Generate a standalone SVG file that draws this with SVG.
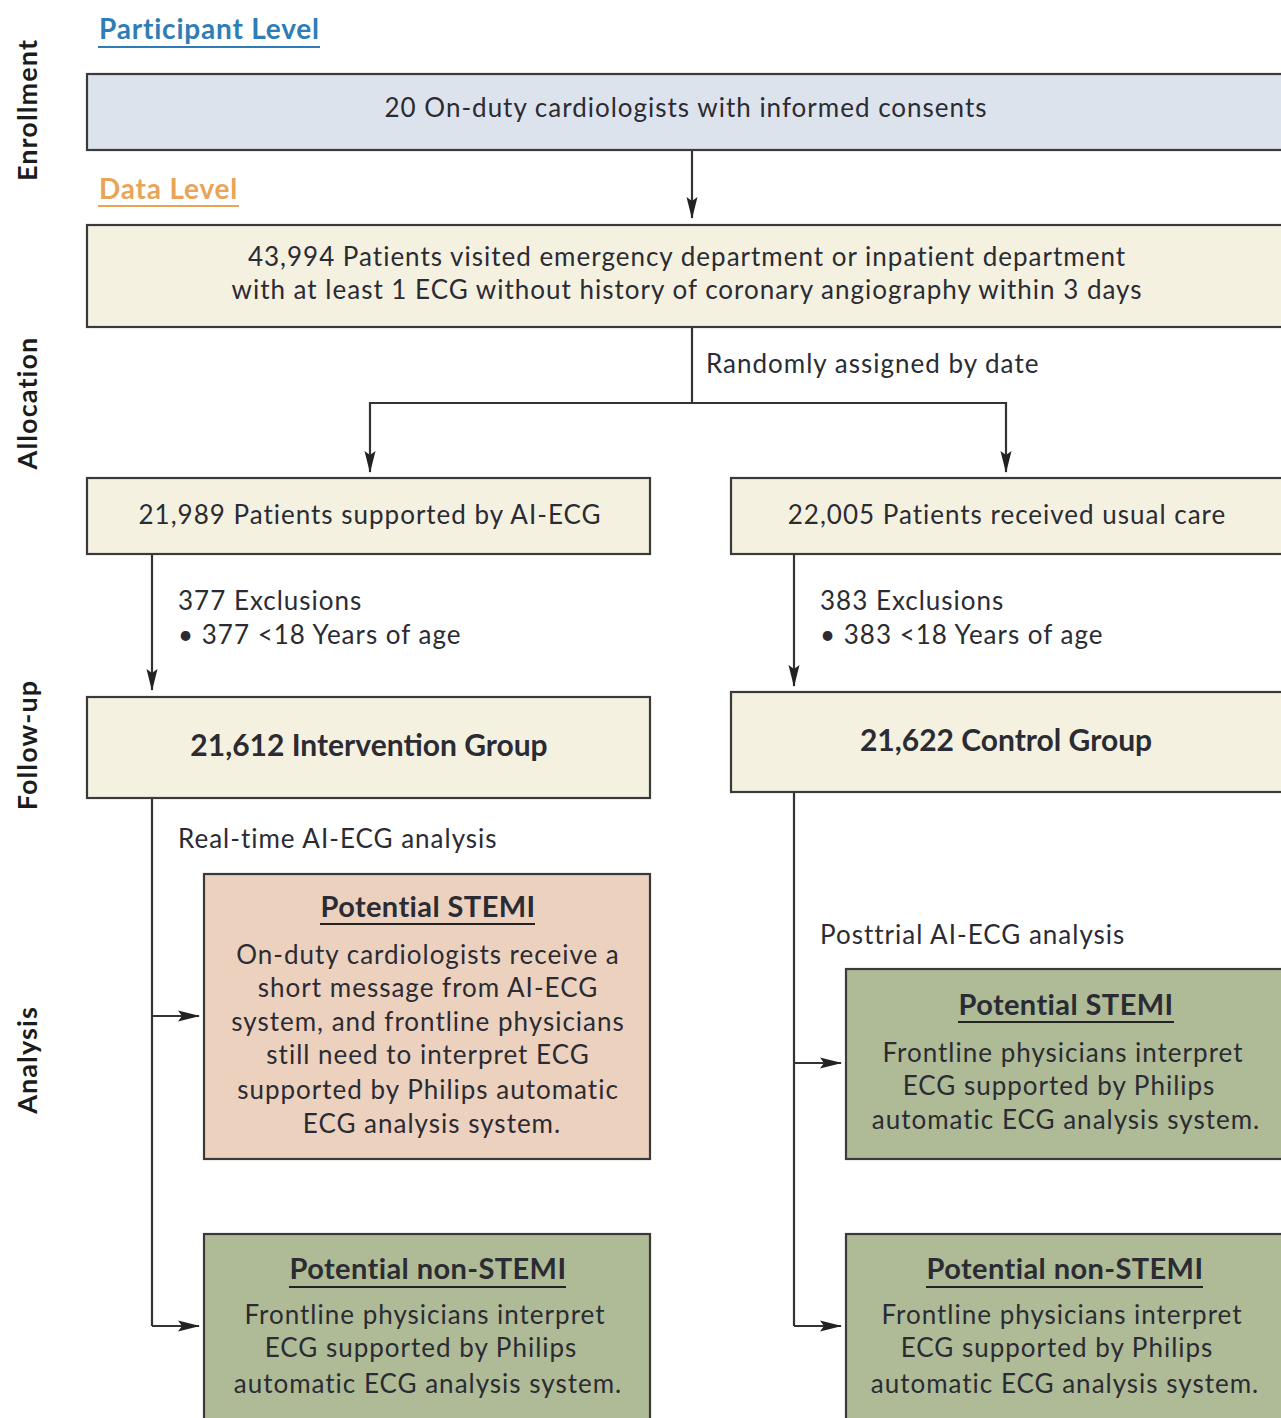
<svg xmlns="http://www.w3.org/2000/svg" width="1281" height="1418" viewBox="0 0 1281 1418">
  <style>
    text { font-family: Lato, "Open Sans", "Liberation Sans", sans-serif; fill: #2b2b33; }
    .body { font-size: 26px; letter-spacing: 1px; }
    .mid { text-anchor: middle; }
    .big { font-size: 30px; font-weight: bold; }
    .title { font-size: 29px; font-weight: bold; letter-spacing: 0.4px; }
    .side { font-size: 27px; font-weight: bold; fill: #1c1c1c; text-anchor: middle; letter-spacing: 1.1px; }
    .head { font-size: 28px; font-weight: bold; letter-spacing: 0.8px; }
    .box { stroke: #3a3a3a; stroke-width: 2.2; }
    .blue { fill: #dde3ec; }
    .cream { fill: #f5f1e0; }
    .peach { fill: #ecd1bf; }
    .sage { fill: #aebb96; }
    .conn { fill: none; stroke: #333; stroke-width: 2.2; }
    .ul { stroke: #222; stroke-width: 2; }
  </style>
  <defs>
    <marker id="arrow" markerUnits="userSpaceOnUse" markerWidth="22" markerHeight="14" viewBox="0 0 22 14" refX="21" refY="7" orient="auto">
      <path d="M0,1.5 L22,7 L0,12.5 L4,7 Z" fill="#222"/>
    </marker>
  </defs>

  <rect width="1281" height="1418" fill="#ffffff"/>

  <!-- stage labels down the left side -->
  <g id="stage-labels">
    <text class="side" transform="translate(37,110) rotate(-90)">Enrollment</text>
    <text class="side" transform="translate(37,403) rotate(-90)">Allocation</text>
    <text class="side" transform="translate(37,745) rotate(-90)">Follow-up</text>
    <text class="side" transform="translate(37,1060) rotate(-90)">Analysis</text>
  </g>

  <!-- level headings -->
  <g id="participant-level">
    <text class="head" x="99" y="39" style="fill:#2e7db7">Participant Level</text>
    <line x1="98" y1="47" x2="320" y2="47" stroke="#2e7db7" stroke-width="2"/>
  </g>
  <g id="data-level">
    <text class="head" x="99" y="199" style="fill:#e9a458">Data Level</text>
    <line x1="98" y1="206" x2="239" y2="206" stroke="#e9a458" stroke-width="2"/>
  </g>

  <!-- connectors -->
  <g id="connectors">
    <path class="conn" d="M692,150 V218" marker-end="url(#arrow)"/>
    <path class="conn" d="M692,327 V403"/>
    <path class="conn" d="M692,403 H370 V472" marker-end="url(#arrow)"/>
    <path class="conn" d="M692,403 H1006 V472" marker-end="url(#arrow)"/>
    <path class="conn" d="M152,554 V690" marker-end="url(#arrow)"/>
    <path class="conn" d="M794,554 V686" marker-end="url(#arrow)"/>
    <path class="conn" d="M152,798 V1326"/>
    <path class="conn" d="M152,1016 H199" marker-end="url(#arrow)"/>
    <path class="conn" d="M152,1326 H199" marker-end="url(#arrow)"/>
    <path class="conn" d="M794,792 V1326"/>
    <path class="conn" d="M794,1063 H841" marker-end="url(#arrow)"/>
    <path class="conn" d="M794,1326 H841" marker-end="url(#arrow)"/>
  </g>

  <!-- connector labels -->
  <g id="connector-labels" class="body">
    <text x="706" y="373">Randomly assigned by date</text>
    <text x="178" y="610">377 Exclusions</text>
    <text x="178" y="644">•  377 &lt;18 Years of age</text>
    <text x="820" y="610">383 Exclusions</text>
    <text x="820" y="644">•  383 &lt;18 Years of age</text>
    <text x="178" y="848">Real-time AI-ECG analysis</text>
    <text x="820" y="944">Posttrial AI-ECG analysis</text>
  </g>

  <g id="cardiologists">
    <rect class="box blue" x="87" y="74" width="1200" height="76"/>
    <text class="body mid" x="686" y="117">20 On-duty cardiologists with informed consents</text>
  </g>

  <g id="patients">
    <rect class="box cream" x="87" y="225" width="1200" height="102"/>
    <text class="body mid" x="687" y="266">43,994 Patients visited emergency department or inpatient department</text>
    <text class="body mid" x="687" y="299">with at least 1 ECG without history of coronary angiography within 3 days</text>
  </g>

  <g id="ai-ecg-arm">
    <rect class="box cream" x="87" y="478" width="563" height="76"/>
    <text class="body mid" x="370" y="524">21,989 Patients supported by AI-ECG</text>
  </g>

  <g id="usual-care-arm">
    <rect class="box cream" x="731" y="478" width="556" height="76"/>
    <text class="body mid" x="1007" y="524">22,005 Patients received usual care</text>
  </g>

  <g id="intervention-group">
    <rect class="box cream" x="87" y="697" width="563" height="101"/>
    <text class="big mid" x="369" y="756">21,612 Intervention Group</text>
  </g>

  <g id="control-group">
    <rect class="box cream" x="731" y="692" width="556" height="100"/>
    <text class="big mid" x="1006" y="751">21,622 Control Group</text>
  </g>

  <g id="intervention-stemi">
    <rect class="box peach" x="204" y="874" width="446" height="285"/>
    <text class="title mid" x="428" y="917">Potential STEMI</text>
    <line class="ul" x1="320" y1="924" x2="535" y2="924"/>
    <text class="body mid" x="428" y="964">On-duty cardiologists receive a</text>
    <text class="body mid" x="428" y="997">short message from AI-ECG</text>
    <text class="body mid" x="428" y="1031">system, and frontline physicians</text>
    <text class="body mid" x="428" y="1064">still need to interpret ECG</text>
    <text class="body mid" x="428" y="1099">supported by Philips automatic</text>
    <text class="body mid" x="432" y="1133">ECG analysis system.</text>
  </g>

  <g id="intervention-non-stemi">
    <rect class="box sage" x="204" y="1234" width="446" height="200"/>
    <text class="title mid" x="428" y="1279">Potential non-STEMI</text>
    <line class="ul" x1="289" y1="1287" x2="566" y2="1287"/>
    <text class="body mid" x="425" y="1324">Frontline physicians interpret</text>
    <text class="body mid" x="421" y="1357">ECG supported by Philips</text>
    <text class="body mid" x="428" y="1393">automatic ECG analysis system.</text>
  </g>

  <g id="control-stemi">
    <rect class="box sage" x="846" y="969" width="441" height="190"/>
    <text class="title mid" x="1066" y="1015">Potential STEMI</text>
    <line class="ul" x1="958" y1="1022" x2="1174" y2="1022"/>
    <text class="body mid" x="1063" y="1062">Frontline physicians interpret</text>
    <text class="body mid" x="1059" y="1095">ECG supported by Philips</text>
    <text class="body mid" x="1066" y="1129">automatic ECG analysis system.</text>
  </g>

  <g id="control-non-stemi">
    <rect class="box sage" x="846" y="1234" width="441" height="200"/>
    <text class="title mid" x="1065" y="1279">Potential non-STEMI</text>
    <line class="ul" x1="926" y1="1287" x2="1203" y2="1287"/>
    <text class="body mid" x="1062" y="1324">Frontline physicians interpret</text>
    <text class="body mid" x="1057" y="1357">ECG supported by Philips</text>
    <text class="body mid" x="1065" y="1393">automatic ECG analysis system.</text>
  </g>
</svg>
